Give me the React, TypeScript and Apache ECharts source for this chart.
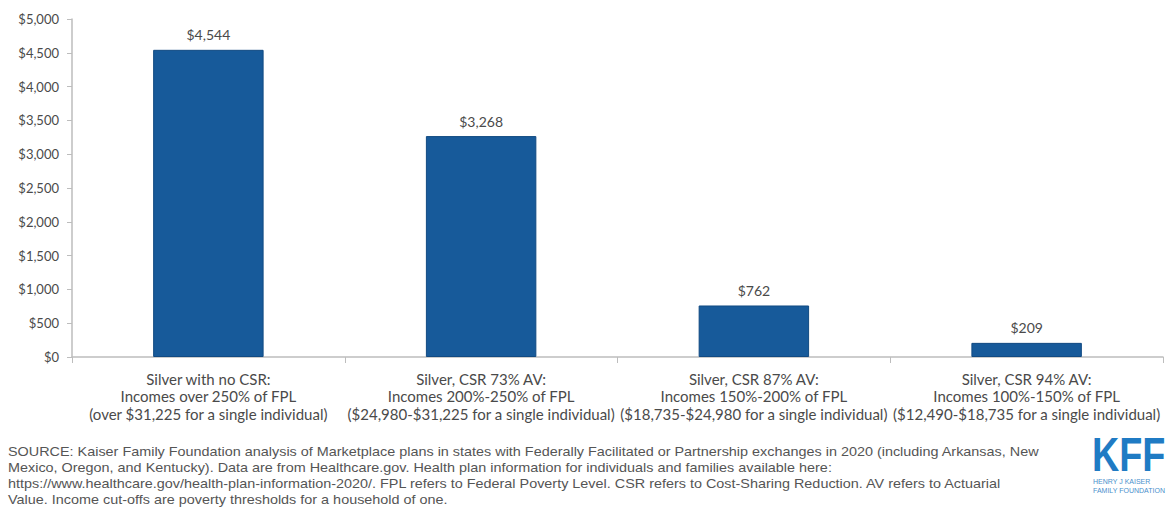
import React, { useEffect, useRef } from "react";
import * as echarts from "echarts";

const categories = [
  "Silver with no CSR:\nIncomes over 250% of FPL\n(over $31,225 for a single individual)",
  "Silver, CSR 73% AV:\nIncomes 200%-250% of FPL\n($24,980-$31,225 for a single individual)",
  "Silver, CSR 87% AV:\nIncomes 150%-200% of FPL\n($18,735-$24,980 for a single individual)",
  "Silver, CSR 94% AV:\nIncomes 100%-150% of FPL\n($12,490-$18,735 for a single individual)",
];
const values = [4544, 3268, 762, 209];
const sourceLines = [
  "SOURCE: Kaiser Family Foundation analysis of Marketplace plans in states with Federally Facilitated or Partnership exchanges in 2020 (including Arkansas, New",
  "Mexico, Oregon, and Kentucky). Data are from Healthcare.gov. Health plan information for individuals and families available here:",
  "https://www.healthcare.gov/health-plan-information-2020/. FPL refers to Federal Poverty Level. CSR refers to Cost-Sharing Reduction. AV refers to Actuarial",
  "Value. Income cut-offs are poverty thresholds for a household of one.",
];

const fmt = (v: number) => "$" + v.toLocaleString("en-US");

export default function App() {
  const ref = useRef<HTMLDivElement>(null);
  useEffect(() => {
    const chart = echarts.init(ref.current!, null, { renderer: "svg" });
    const font = "Lato, 'Open Sans', sans-serif";
    chart.setOption({
      animation: false,
      backgroundColor: "#ffffff",
      grid: { left: 72, right: 4, top: 19, bottom: 153 },
      xAxis: {
        type: "category",
        data: categories,
        axisLine: { lineStyle: { color: "#bdbdbd", width: 1.5 } },
        axisTick: { show: true, alignWithLabel: false, length: 6, lineStyle: { color: "#bdbdbd" } },
        axisLabel: {
          color: "#4a4a4a",
          fontFamily: font,
          fontSize: 15,
          lineHeight: 17.5,
          margin: 13,
          interval: 0,
        },
      },
      yAxis: {
        type: "value",
        min: 0,
        max: 5000,
        interval: 500,
        axisLine: { show: true, lineStyle: { color: "#bdbdbd", width: 1.5 } },
        axisTick: { show: true, length: 5, lineStyle: { color: "#bdbdbd" } },
        splitLine: { show: false },
        axisLabel: {
          color: "#4a4a4a",
          fontFamily: font,
          fontSize: 13,
          margin: 13,
          formatter: (v: number) => fmt(v),
        },
      },
      series: [
        {
          type: "bar",
          data: values,
          barWidth: "40.5%",
          itemStyle: { color: "#175a9a", borderColor: "#114a82", borderWidth: 1 },
          label: {
            show: true,
            position: "top",
            distance: 8,
            color: "#4a4a4a",
            fontFamily: font,
            fontSize: 14,
            formatter: (p: any) => fmt(p.value),
          },
        },
      ],
      graphic: [
        ...sourceLines.map((t, i) => ({
          type: "text",
          x: 8,
          y: 446 + i * 16,
          scaleX: 1.2,
          style: {
            text: t,
            fill: "#555555",
            font: "12px 'Liberation Sans', Arial, sans-serif",
          },
        })),
        {
          type: "text",
          x: 1092,
          y: 434,
          scaleX: 0.77,
          style: {
            text: "KFF",
            fill: "#1f7bc4",
            font: "bold 49px 'Liberation Sans', Arial, sans-serif",
            lineHeight: 40,
          },
        },
        {
          type: "text",
          x: 1093,
          y: 477,
          style: {
            text: "HENRY J KAISER\nFAMILY FOUNDATION",
            fill: "#4a90cc",
            font: "7px 'Liberation Sans', Arial, sans-serif",
            lineHeight: 9,
          },
        },
      ],
    });
    return () => chart.dispose();
  }, []);
  return <div ref={ref} style={{ width: 1167, height: 510, position: "absolute", left: 0, top: 0 }} />;
}
